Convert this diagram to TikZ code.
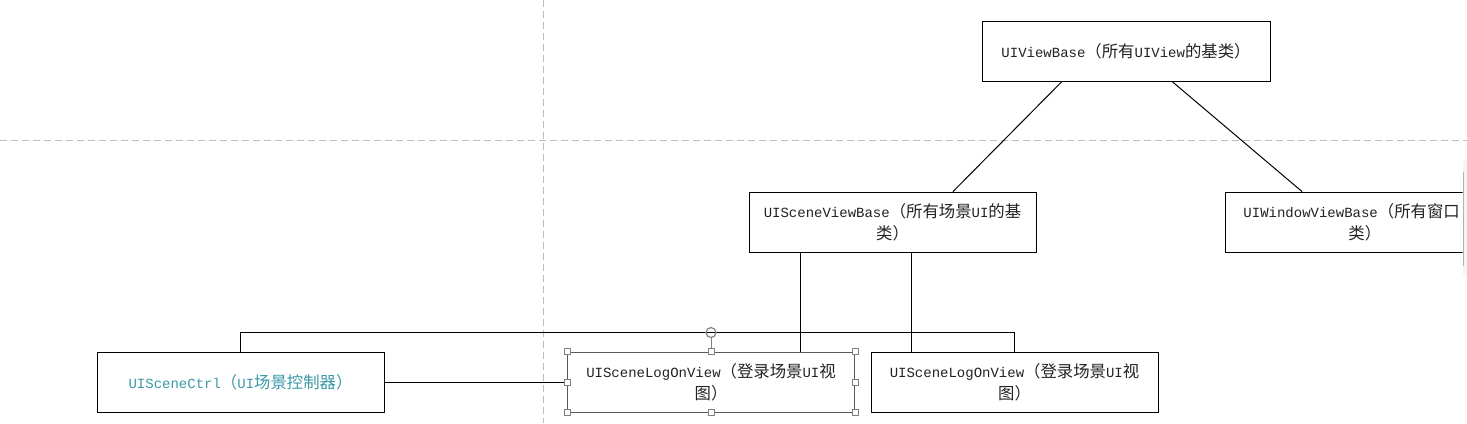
\documentclass[tikz,border=0pt]{standalone}
\usepackage{fontspec}
\setmainfont{Liberation Mono}
\newfontfamily\cjk[Scale=1.17]{Noto Sans CJK SC}
\newcommand{\zh}[1]{{\cjk #1}}
\usetikzlibrary{calc}
\definecolor{ink}{HTML}{222222}
\definecolor{ctrlteal}{HTML}{3A98A6}
\definecolor{guide}{HTML}{BDBDBD}
\tikzset{
  classbox/.style = {rectangle, draw=black, line width=0.9pt, minimum width=287pt, minimum height=60pt,
    text width=270pt, inner xsep=8.5pt, align=center, text=ink, font=\fontsize{14}{22}\selectfont},
  selectedbox/.style = {classbox, draw=black!65, line width=0.9pt},
  handle/.style = {rectangle, draw=gray, fill=white, line width=0.6pt, minimum size=6pt, inner sep=0pt},
  link/.style = {draw=black, line width=1pt},
  guideline/.style = {draw=guide, line width=0.8pt, dash pattern=on 7pt off 4pt}
}

\begin{document}
\begin{tikzpicture}[x=1pt, y=-1pt]
\useasboundingbox (0,0) rectangle (1467,423);
% GUIDES
\draw[guideline] (543,0) -- (543,423);
\draw[guideline] (0,140) -- (1467,140);
% CLASS NODES
\node (base) [classbox, minimum width=288pt] at (1126,51) {UIViewBase\zh{（所有}UIView\zh{的基类）}};
\node (sceneBase) [classbox] at (892.5,222) {UISceneViewBase\zh{（所有场景}UI\zh{的基}\\\zh{类）}};
\begin{scope}
\clip (1200,150) rectangle (1462.5,270);
\node (win) [classbox, anchor=west, text width=251pt, inner xsep=18pt, align=left] at (1225,222)
  {UIWindowViewBase\zh{（所有窗口}\\\hspace*{105pt}\zh{类）}};
\end{scope}
\fill[gray!8] (1463,160) rectangle (1467,275);
\draw[gray!60, line width=0.8pt] (1463.5,172) -- (1463.5,266);
\node (ctrl) [classbox, text=ctrlteal] at (240.5,382) {UISceneCtrl\zh{（}UI\zh{场景控制器）}};
\node (logon) [selectedbox] at (711,382) {UISceneLogOnView\zh{（登录场景}UI\zh{视}\\\zh{图）}};
\node (logonB) [classbox] at (1014.5,382) {UISceneLogOnView\zh{（登录场景}UI\zh{视}\\\zh{图）}};
% CONNECTORS
\coordinate (legA) at ($(sceneBase.south)+(-92.5,0)$);
\coordinate (legB) at ($(sceneBase.south)+(18.5,0)$);
\draw[link] ($(base.south)+(-64,0)$) -- ($(sceneBase.north)+(60.5,0)$);
\draw[link] ($(base.south)+(46,0)$) -- ($(win.north west)+(77,0)$);
\draw[link] (legA) -- (legA |- logon.north);
\draw[link] (legB) -- (legB |- logonB.north);
\draw[link] (ctrl.north) -- ++(0,-19) -| (logonB.north);
\draw[link] (ctrl.east) -- (logon.west);
% SELECTION HANDLES
\draw[gray, line width=0.6pt] (logon.north) -- ++(0,-14) coordinate (rot);
\draw[gray, line width=1.2pt] ($(rot)+(0,-5)$) circle (5pt);
\foreach \a in {north west,north,north east,east,south east,south,south west,west}
  \node (h-\a) [handle] at (logon.\a) {};
\end{tikzpicture}
\end{document}
